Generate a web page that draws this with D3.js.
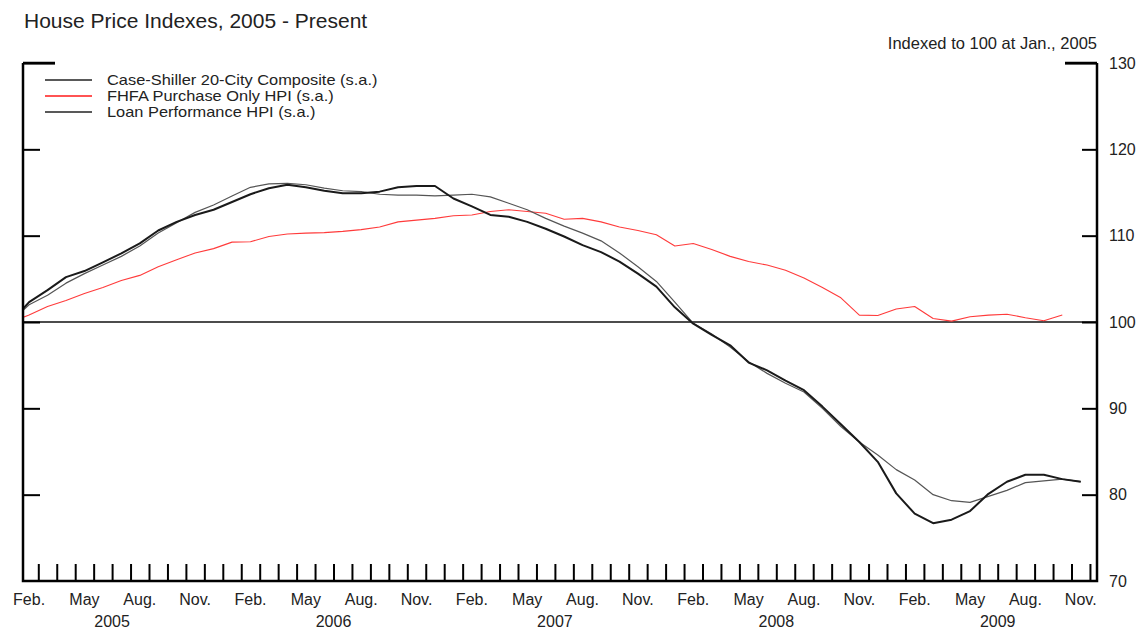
<!DOCTYPE html>
<html lang="en">
<head>
  <meta charset="UTF-8">
  <title>House Price Indexes</title>
  <style type="text/css">
    body{
      margin: 0;
      background: #fff;
      font-family: "Liberation Sans", Arial, sans-serif;
    }
    text{
      fill: #222;
    }
    .title{
      font-size: 21px;
    }
    .note{
      font-size: 16.5px;
    }
    .legend text{
      font-size: 14.5px;
    }
    .axis text{
      font-size: 16px;
      fill: #222;
    }
    .axis line{
      stroke: #000;
      stroke-width: 2px;
    }
    .axis path{
      display: none;
    }
    .frame{
      stroke: #000;
      stroke-width: 2.5px;
      fill: none;
    }
  </style>
  <script type="text/javascript" src="https://d3js.org/d3.v7.min.js"></script>
</head>
<body>
<script type="text/javascript">
  // monthly values, index 0 = Jan. 2005
  var caseShiller = [100, 102.0, 103.1, 104.5, 105.6, 106.6, 107.6, 108.8, 110.3, 111.5, 112.7, 113.55,
    114.6, 115.6, 116.0, 116.05, 115.9, 115.5, 115.2, 115.1, 114.8, 114.7, 114.7, 114.6,
    114.7, 114.8, 114.5, 113.75, 113.0, 112.0, 111.1, 110.3, 109.4, 108.0, 106.4, 104.7,
    102.3, 99.85, 98.6, 97.1, 95.4, 94.05, 92.9, 91.9, 90.0, 87.9, 86.1, 84.6,
    82.9, 81.7, 80.0, 79.3, 79.1, 79.8, 80.5, 81.4, 81.6, 81.8, 81.5];

  var fhfa = [100, 100.8, 101.8, 102.5, 103.3, 104.0, 104.8, 105.4, 106.4, 107.2, 108.0, 108.5,
    109.25, 109.3, 109.9, 110.2, 110.3, 110.35, 110.5, 110.7, 111.0, 111.6, 111.8, 112.0,
    112.3, 112.4, 112.8, 113.0, 112.8, 112.6, 111.9, 112.0, 111.6, 111.0, 110.6, 110.1,
    108.8, 109.1, 108.4, 107.6, 107.0, 106.6, 106.0, 105.1, 104.0, 102.8, 100.8, 100.75,
    101.5, 101.8, 100.4, 100.1, 100.6, 100.8, 100.9, 100.5, 100.15, 100.8];

  var loanPerf = [100, 102.3, 103.7, 105.2, 105.9, 106.9, 107.95, 109.1, 110.6, 111.6, 112.4, 113.0,
    113.9, 114.8, 115.5, 115.9, 115.6, 115.2, 114.9, 114.9, 115.1, 115.6, 115.75, 115.75,
    114.3, 113.4, 112.4, 112.2, 111.6, 110.8, 109.9, 108.9, 108.1, 107.0, 105.6, 104.1,
    101.7, 99.8, 98.5, 97.3, 95.3, 94.4, 93.2, 92.1, 90.2, 88.15, 86.1, 83.8,
    80.15, 77.8, 76.7, 77.1, 78.1, 80.1, 81.5, 82.3, 82.3, 81.8, 81.5];

  var seriesNames = ['Case-Shiller 20-City Composite (s.a.)', 'FHFA Purchase Only HPI (s.a.)', 'Loan Performance HPI (s.a.)'];
  var monthLabels = ['Feb.', 'May', 'Aug.', 'Nov.'];
  var monthOffsets = [1, 4, 7, 10];
  var years = [2005, 2006, 2007, 2008, 2009];
  var yTicks = [70, 80, 90, 100, 110, 120, 130];

  var W = 1141, H = 631;
  var plotLeft = 23, plotRight = 1097, plotTop = 63, plotBottom = 581;

  var svg = d3.select('body').append('svg')
    .attr('width', W)
    .attr('height', H);

  // month index scale (uniform months)
  var xScale = d3.scaleLinear().domain([0, 60]).range([1.4, 1108.4]);
  var yScale = d3.scaleLinear().domain([70, 130]).range([plotBottom, plotTop]);

  svg.append('defs').append('clipPath').attr('id', 'plot')
    .append('rect')
    .attr('x', plotLeft).attr('y', plotTop)
    .attr('width', plotRight - plotLeft).attr('height', plotBottom - plotTop);

  // 100 reference line
  svg.append('line')
    .attr('x1', plotLeft).attr('x2', plotRight)
    .attr('y1', yScale(100)).attr('y2', yScale(100))
    .style('stroke', '#111').style('stroke-width', 1.3);

  var line = d3.line()
    .x(function(d, i){ return xScale(i + 0.5); })
    .y(function(d){ return yScale(d); });

  var series = [
    {name: seriesNames[0], values: caseShiller, color: '#555', width: 1.2},
    {name: seriesNames[1], values: fhfa, color: '#ff3b3b', width: 1.1},
    {name: seriesNames[2], values: loanPerf, color: '#1a1a1a', width: 2}
  ];

  svg.append('g').attr('clip-path', 'url(#plot)')
    .selectAll('path')
    .data([series[1], series[0], series[2]])
    .enter().append('path')
    .attr('d', function(d){ return line(d.values); })
    .style('fill', 'none')
    .style('stroke', function(d){ return d.color; })
    .style('stroke-width', function(d){ return d.width; })
    .style('stroke-linejoin', 'round');

  // left axis: ticks pointing inward, no labels
  var leftAxis = svg.append('g')
    .attr('class', 'axis')
    .attr('transform', 'translate(' + plotLeft + ',0)')
    .call(d3.axisRight(yScale).tickValues(yTicks.slice(1)).tickSize(17).tickFormat(''));
  leftAxis.selectAll('.tick').filter(function(d){ return d === 130; })
    .select('line').attr('x2', 32);

  // right axis: ticks inward, labels outside
  var rightAxis = svg.append('g')
    .attr('class', 'axis')
    .attr('transform', 'translate(' + plotRight + ',0)')
    .call(d3.axisLeft(yScale).tickValues(yTicks.slice(1)).tickSize(15).tickFormat(''));
  rightAxis.selectAll('.tick').filter(function(d){ return d === 130; })
    .select('line').attr('x2', -32);

  svg.append('g')
    .attr('class', 'axis')
    .attr('transform', 'translate(' + plotRight + ',0)')
    .call(d3.axisRight(yScale).tickValues(yTicks).tickSize(0).tickPadding(12).tickFormat(d3.format('d')))
    .selectAll('.tick line').remove();

  // monthly ticks on bottom
  var monthBounds = d3.range(2, 60);
  svg.append('g')
    .attr('class', 'axis')
    .attr('transform', 'translate(0,' + plotBottom + ')')
    .call(d3.axisTop(xScale).tickValues(monthBounds).tickSize(17).tickFormat(''));

  // month labels
  var labelMonths = [];
  years.forEach(function(y, yi){
    monthOffsets.forEach(function(m, mi){
      labelMonths.push({idx: yi * 12 + m, label: monthLabels[mi]});
    });
  });
  svg.append('g')
    .attr('class', 'axis')
    .selectAll('text')
    .data(labelMonths)
    .enter().append('text')
    .attr('x', function(d){ return xScale(d.idx + 0.5); })
    .attr('y', 605)
    .attr('text-anchor', 'middle')
    .text(function(d){ return d.label; });

  svg.append('g')
    .attr('class', 'axis')
    .selectAll('text')
    .data(years)
    .enter().append('text')
    .attr('x', function(d, i){ return xScale(i * 12 + 6); })
    .attr('y', 627)
    .attr('text-anchor', 'middle')
    .text(function(d){ return d; });

  // frame
  svg.append('path')
    .attr('class', 'frame')
    .attr('d', 'M' + plotLeft + ',' + plotTop + 'V' + plotBottom + 'H' + plotRight + 'V' + plotTop);
  svg.append('path')
    .attr('class', 'frame')
    .attr('d', 'M' + plotLeft + ',' + plotTop + 'h32M' + plotRight + ',' + plotTop + 'h-32');

  // title and note
  svg.append('text')
    .attr('class', 'title')
    .attr('x', 24).attr('y', 28)
    .text('House Price Indexes, 2005 - Present');

  svg.append('text')
    .attr('class', 'note')
    .attr('x', plotRight).attr('y', 49)
    .attr('text-anchor', 'end')
    .text('Indexed to 100 at Jan., 2005');

  // legend (text is a little wide in the original, so stretch it)
  var legend = svg.selectAll('.legend')
    .data(series)
    .enter().append('g')
    .attr('class', 'legend')
    .attr('transform', function(d, i){ return 'translate(0,' + (80 + i * 16) + ')'; });

  legend.append('line')
    .attr('x1', 45).attr('x2', 92)
    .style('stroke', function(d){ return d.color === '#ff3b3b' ? '#ff1a1a' : '#222'; })
    .style('stroke-width', 1.3);

  legend.append('text')
    .attr('transform', 'translate(107,0) scale(1.13,1)')
    .attr('dy', '.35em')
    .text(function(d){ return d.name; });
</script>
</body>
</html>
